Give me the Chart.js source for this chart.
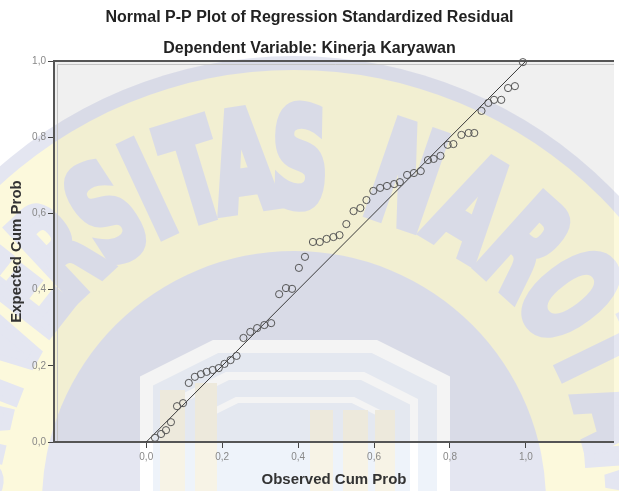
<!DOCTYPE html>
<html>
<head>
<meta charset="utf-8">
<script src="https://cdn.jsdelivr.net/npm/chart.js@4.4.1/dist/chart.umd.min.js"></script>
<style>
html, body { margin: 0; padding: 0; background: #fff; }
</style>
</head>
<body>
<canvas id="pp_chart" width="619" height="491"></canvas>
<script>
// Datos (Observed vs Expected Cum Prob)
const observedCumProb = [0.023, 0.039, 0.052, 0.065, 0.081, 0.097, 0.112, 0.128, 0.144, 0.159,
    0.175, 0.191, 0.206, 0.222, 0.238, 0.256, 0.274, 0.292, 0.311, 0.329,
    0.350, 0.368, 0.384, 0.402, 0.418, 0.439, 0.457, 0.475, 0.493, 0.509,
    0.527, 0.546, 0.564, 0.580, 0.598, 0.616, 0.634, 0.653, 0.668, 0.687,
    0.705, 0.723, 0.742, 0.757, 0.775, 0.794, 0.809, 0.830, 0.849, 0.864,
    0.883, 0.901, 0.916, 0.935, 0.953, 0.971, 0.992];
const expectedCumProb = [0.011, 0.021, 0.031, 0.052, 0.094, 0.102, 0.155, 0.171, 0.178, 0.184,
    0.189, 0.194, 0.205, 0.215, 0.226, 0.273, 0.289, 0.299, 0.307, 0.312,
    0.388, 0.404, 0.402, 0.457, 0.486, 0.525, 0.525, 0.533, 0.538, 0.543,
    0.572, 0.606, 0.614, 0.635, 0.659, 0.667, 0.672, 0.677, 0.682, 0.701,
    0.706, 0.711, 0.740, 0.743, 0.751, 0.780, 0.782, 0.806, 0.811, 0.811,
    0.869, 0.890, 0.898, 0.898, 0.929, 0.934, 0.997];
const refLineX = [0, 1];
const refLineY = [0, 1];
const tickValues = [0, 0.2, 0.4, 0.6, 0.8, 1.0];
const chartTitle = 'Normal P-P Plot of Regression Standardized Residual';
const chartSubtitle = 'Dependent Variable: Kinerja Karyawan';
// marca de agua: letras y su ángulo (grados) sobre el arco
const watermarkLetters = ['U', 'N', 'I', 'V', 'E', 'R', 'S', 'I', 'T', 'A', 'S',
    'N', 'A', 'R', 'O', 'T', 'A', 'M', 'A'];
const watermarkAngles = [-86, -77, -69, -61, -52, -43, -33, -25, -17, -8.5, 1,
    19, 31, 42, 53, 64, 75, 86, 97];

const fmtTick = v => v.toFixed(1).replace('.', ',');
const FONT = '"Liberation Sans", Arial, sans-serif';

// Marca de agua (logo) en un canvas aparte
function buildWatermark(w, h) {
    const c = document.createElement('canvas');
    c.width = w; c.height = h;
    const g = c.getContext('2d');
    const cx = 294, cy = 503;
    const blue = 'rgb(172,178,214)';
    const yellow = 'rgb(247,237,150)';
    g.fillStyle = blue;
    g.beginPath(); g.arc(cx, cy, 447, 0, Math.PI * 2); g.fill();
    g.fillStyle = yellow;
    g.beginPath(); g.arc(cx, cy, 433, 0, Math.PI * 2); g.fill();
    // texto en arco
    g.fillStyle = blue;
    g.strokeStyle = blue;
    g.lineWidth = 10;
    g.font = 'bold 134px "DejaVu Sans", sans-serif';
    g.textAlign = 'center';
    g.textBaseline = 'alphabetic';
    watermarkLetters.forEach((ch, i) => {
        g.save();
        g.translate(cx, cy);
        g.rotate(watermarkAngles[i] * Math.PI / 180);
        g.scale(0.58, 1);
        g.fillText(ch, 0, -298);
        g.strokeText(ch, 0, -298);
        g.restore();
    });
    g.fillStyle = blue;
    g.beginPath(); g.arc(cx, cy, 252, 0, Math.PI * 2); g.fill();
    // edificio
    const poly = (inset, color) => {
        const l = 140 + inset, r = 450 - inset, t = 340 + inset;
        const cw = 73 - inset * 0.6, ch = cw * 0.5;
        g.fillStyle = color;
        g.beginPath();
        g.moveTo(l, h + 5); g.lineTo(l, t + ch); g.lineTo(l + cw, t);
        g.lineTo(r - cw, t); g.lineTo(r, t + ch); g.lineTo(r, h + 5);
        g.closePath(); g.fill();
    };
    poly(0, '#ffffff');
    poly(13, 'rgb(205,218,240)');
    poly(32, '#ffffff');
    poly(40, 'rgb(205,218,240)');
    poly(57, '#ffffff');
    poly(63, 'rgb(205,218,240)');
    g.fillStyle = 'rgb(232,220,180)';
    [[160, 390, 25], [195, 383, 22], [310, 410, 23], [343, 410, 25], [375, 410, 20]].forEach(b => {
        g.fillRect(b[0], b[1], b[2], h - b[1]);
    });
    return c;
}

const backgroundPlugin = {
    id: 'fondo',
    beforeDraw(chart) {
        const ctx = chart.ctx;
        const a = chart.chartArea;
        ctx.save();
        ctx.fillStyle = '#ffffff';
        ctx.fillRect(0, 0, chart.width, chart.height);
        ctx.fillStyle = '#f0f0f0';
        ctx.fillRect(a.left, a.top, a.right - a.left, a.bottom - a.top);
        if (!chart._wm) chart._wm = buildWatermark(chart.width, chart.height);
        ctx.globalAlpha = 0.32;
        ctx.drawImage(chart._wm, 0, 0);
        ctx.restore();
    },
    beforeDatasetsDraw(chart) {
        const ctx = chart.ctx;
        const a = chart.chartArea;
        ctx.save();
        ctx.strokeStyle = '#c4c4c4';
        ctx.lineWidth = 1;
        ctx.beginPath();
        ctx.moveTo(a.right, a.top + 3.5); ctx.lineTo(a.left + 3.5, a.top + 3.5); ctx.lineTo(a.left + 3.5, a.bottom);
        ctx.stroke();
        ctx.strokeStyle = '#555555';
        ctx.lineWidth = 2;
        ctx.beginPath();
        ctx.moveTo(a.right, a.top); ctx.lineTo(a.left, a.top); ctx.lineTo(a.left, a.bottom); ctx.lineTo(a.right, a.bottom);
        ctx.stroke();
        // títulos
        ctx.fillStyle = '#222222';
        ctx.font = 'bold 16px ' + FONT;
        ctx.textAlign = 'center';
        ctx.textBaseline = 'alphabetic';
        ctx.fillText(chartTitle, 309.5, 22);
        ctx.fillText(chartSubtitle, 309.5, 53);
        ctx.restore();
    }
};

const ctxPP = document.getElementById('pp_chart').getContext('2d');
const ppChart = new Chart(ctxPP, {
    type: 'scatter',
    data: {
        datasets: [{
            label: 'Observed',
            data: observedCumProb.map((x, i) => ({x: x, y: expectedCumProb[i]})),
            borderColor: '#555555',
            backgroundColor: 'rgba(0,0,0,0)',
            borderWidth: 1,
            pointRadius: 3.6,
            clip: false
        }, {
            type: 'line',
            label: 'Reference',
            data: refLineX.map((x, i) => ({x: x, y: refLineY[i]})),
            borderColor: '#3a3a3a',
            borderWidth: 1,
            pointRadius: 0,
            fill: false,
            clip: false
        }]
    },
    plugins: [backgroundPlugin],
    options: {
        responsive: false,
        animation: false,
        layout: { padding: { top: 61, left: 0, right: 0, bottom: 0 } },
        plugins: {
            legend: { display: false },
            tooltip: { enabled: false }
        },
        scales: {
            x: {
                type: 'linear',
                min: -0.243,
                max: 1.232,
                afterBuildTicks: s => { s.ticks = tickValues.map(v => ({value: v})); },
                afterFit: s => { s.height = 49; },
                border: { display: false },
                grid: { drawOnChartArea: false, tickLength: 6, tickColor: '#444444', tickWidth: 1 },
                ticks: { callback: v => fmtTick(v), color: '#888888', padding: 3,
                    font: { size: 10, family: FONT } },
                title: {
                    display: true,
                    text: 'Observed Cum Prob',
                    color: '#333333',
                    padding: { top: 0, bottom: 2 },
                    font: { size: 15, weight: 'bold', family: FONT }
                }
            },
            y: {
                min: 0,
                max: 1,
                afterBuildTicks: s => { s.ticks = tickValues.map(v => ({value: v})); },
                afterFit: s => { s.width = 54; },
                border: { display: false },
                grid: { drawOnChartArea: false, tickLength: 6, tickColor: '#444444', tickWidth: 1 },
                ticks: { callback: v => fmtTick(v), color: '#888888', padding: 2,
                    font: { size: 10, family: FONT } },
                title: {
                    display: true,
                    text: 'Expected Cum Prob',
                    color: '#333333',
                    padding: { top: 8, bottom: 0 },
                    font: { size: 15, weight: 'bold', family: FONT }
                }
            }
        }
    }
});
</script>
</body>
</html>
